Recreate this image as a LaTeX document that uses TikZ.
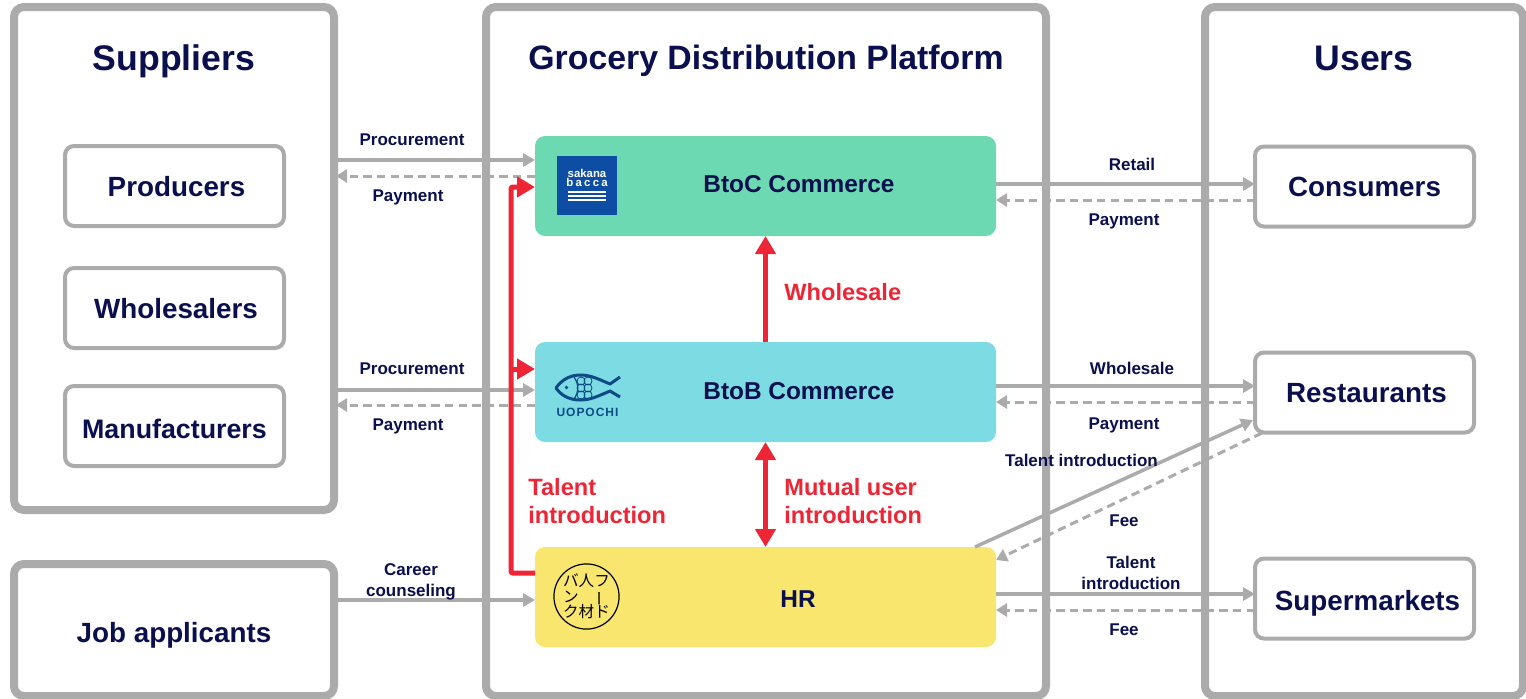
\documentclass[tikz,border=0pt]{standalone}
\usepackage{fontspec}
\setmainfont{Liberation Sans}
\newfontfamily\jpfont{Noto Sans CJK JP}
\newfontfamily\sakanafont{Liberation Sans}
\newfontfamily\baccafont[LetterSpace=20]{Liberation Sans}
\newfontfamily\uopochifont[LetterSpace=8]{Liberation Sans}
\usetikzlibrary{arrows.meta, positioning}
\definecolor{linegray}{HTML}{ABABAB}
\definecolor{navytext}{HTML}{0A0F4D}
\definecolor{redline}{HTML}{EE2535}
\definecolor{btocgreen}{HTML}{6DD9B3}
\definecolor{btobcyan}{HTML}{7DDBE3}
\definecolor{hryellow}{HTML}{F9E66F}
\definecolor{logoblue}{HTML}{0E4DA4}
\definecolor{fishblue}{HTML}{0D4A86}
\newcommand{\boxlabel}[3]{\hspace*{#1}\raisebox{#2}[0pt][0pt]{#3}}

\begin{document}
\begin{tikzpicture}[
            x=0.5pt, y=-0.5pt,
            panelnode/.style={rectangle, rounded corners=5pt, draw=linegray, line width=4pt, outer sep=0pt, inner sep=0pt},
            boxnode/.style={rectangle, rounded corners=4.5pt, draw=linegray, line width=2pt, outer sep=0pt, inner sep=0pt, minimum width=109.5pt, minimum height=40pt, text=navytext, font=\fontsize{13.9}{16}\selectfont\bfseries},
            servicenode/.style={rectangle, rounded corners=5pt, outer sep=0pt, inner sep=0pt, minimum width=230.5pt, minimum height=50pt},
            titletext/.style={text=navytext, font=\fontsize{17.8}{20}\selectfont\bfseries},
            servicetext/.style={text=navytext, font=\fontsize{12.2}{14}\selectfont\bfseries},
            flowlabel/.style={text=navytext, align=center, inner sep=0pt, font=\fontsize{8.5}{10.5}\selectfont\bfseries},
            redlabel/.style={text=redline, align=left, inner sep=0pt, anchor=west, font=\fontsize{11.8}{14}\selectfont\bfseries},
            logotext/.style={text=white, inner sep=0pt, anchor=base, font=\fontsize{5.7}{7}\selectfont\bfseries},
            flowline/.style={draw=linegray, line width=1.75pt, -{Triangle[length=6pt, width=6.5pt]}},
            backline/.style={draw=linegray, line width=1.5pt, dash pattern=on 4.2pt off 2.6pt, -{Triangle[length=5.5pt, width=6.5pt]}},
            redline/.style={draw=redline, line width=2.5pt, rounded corners=1pt},
            redarrow/.style={redline, -{Triangle[length=9pt, width=10pt]}},
            ]
            \clip (0,0) rectangle (1526,698);

            % outer panels
            \node[panelnode, minimum width=160pt, minimum height=251.5pt] (suppliers) at (174,258.5) {};
            \node[panelnode, minimum width=160pt, minimum height=66pt]    (jobs)      at (174,630) {\boxlabel{0pt}{-6pt}{\fontsize{13.9}{16}\selectfont\bfseries\color{navytext}Job applicants}};
            \node[panelnode, minimum width=280pt, minimum height=344.5pt] (platform)  at (766,351.5) {};
            \node[panelnode, minimum width=159pt, minimum height=344.5pt] (users)     at (1364,351.5) {};
            \node[titletext] (supplierstitle) at (174,61) {Suppliers};
            \node[titletext, font=\fontsize{16.9}{20}\selectfont\bfseries] (platformtitle)  at (766,61) {Grocery Distribution Platform};
            \node[titletext] (userstitle)     at (1364,58) {Users};

            % left boxes
            \node[boxnode] (producers)                               at (174.5,186) {\boxlabel{2pt}{-5pt}{Producers}};
            \node[boxnode] (wholesalers)   [below=21pt of producers]   {\boxlabel{1.5pt}{-5.25pt}{Wholesalers}};
            \node[boxnode, font=\fontsize{13.4}{16}\selectfont\bfseries] (manufacturers) [below=19pt of wholesalers] {\boxlabel{0pt}{-6.25pt}{Manufacturers}};

            % right boxes
            \node[boxnode] (consumers)                               at (1364.5,186.5) {\boxlabel{0pt}{-4.75pt}{Consumers}};
            \node[boxnode] (restaurants)   [below=63pt of consumers]   {\boxlabel{2pt}{-5pt}{Restaurants}};
            \node[boxnode] (supermarkets)  [below=63pt of restaurants] {\boxlabel{3pt}{-6pt}{Supermarkets}};

            % middle boxes
            \node[servicenode, fill=btocgreen] (btoc)                      at (765.5,186) {};
            \node[servicenode, fill=btobcyan]  (btob) [below=53pt of btoc]   {};
            \node[servicenode, fill=hryellow]  (hr)   [below=52.5pt of btob] {};
            \node[servicetext] (btoctext) at (799,184) {BtoC Commerce};
            \node[servicetext] (btobtext) at (799,391) {BtoB Commerce};
            \node[servicetext] (hrtext)   at (798,599) {HR};

            % sakana bacca logo
            \node[rectangle, fill=logoblue, minimum width=30pt, minimum height=29.5pt, inner sep=0pt] (sakanalogo) at (587,185.5) {};
            \node[logotext] (sakanaword) at (587,177.3) {\sakanafont sakana};
            \node[logotext] (baccaword)  at (587,186.9) {\baccafont bacca};
            \draw[white, line width=1pt] (568,191.8) -- (606,191.8);
            \draw[white, line width=1pt] (568,196) -- (606,196);
            \draw[white, line width=1pt] (568,200.2) -- (606,200.2);

            % uopochi logo
            \draw[fishblue, line width=1.5pt, line join=round] (620,377) -- (610,384) .. controls (596,378) and (590,375) .. (580,375) .. controls (568,375) and (560,382) .. (556,388) .. controls (560,394) and (568,400) .. (580,400) .. controls (590,400) and (596,397) .. (610,391) -- (620,397);
            \draw[fishblue, line width=0.6pt] (574,377) .. controls (579,384) and (579,392) .. (574,399);
            \draw[fishblue, line width=0.4pt] (581,381) circle[radius=2pt] (581,388) circle[radius=2pt] (581,395) circle[radius=2pt] (588,381) circle[radius=2pt] (588,388) circle[radius=2pt] (588,395) circle[radius=2pt];
            \fill[fishblue] (566.5,387.5) circle[radius=0.9pt];
            \node[text=fishblue, inner sep=0pt, font=\fontsize{6}{7}\selectfont\bfseries] (uopochiword) at (587.5,412) {\uopochifont UOPOCHI};

            % food jinzai logo
            \node[circle, draw=black, line width=0.6pt, minimum size=31.5pt, inner sep=0pt, align=left, font=\jpfont\fontsize{7.8}{7.8}\selectfont] (hrlogo) at (586.5,596.5) {バ人フ\\ン\hspace{1em}\makebox[1em]{\raisebox{0pt}[0pt][0pt]{\rotatebox[origin=c]{90}{ー}}}\\ク材ド};

            % left flows
            \draw[flowline] (suppliers.east |- 0,160) -- (btoc.west |- 0,160);
            \draw[backline, shorten >=1pt] (btoc.west |- 0,176) -- (suppliers.east |- 0,176);
            \draw[flowline] (suppliers.east |- 0,390) -- (btob.west |- 0,390);
            \draw[backline, shorten >=1pt] (btob.west |- 0,405) -- (suppliers.east |- 0,405);
            \draw[flowline] (jobs.east |- 0,600) -- (hr.west |- 0,600);
            \node[flowlabel] (procone)  at (412,140) {Procurement};
            \node[flowlabel] (payone)   at (408,197) {Payment};
            \node[flowlabel] (proctwo)  at (412,369) {Procurement};
            \node[flowlabel] (paytwo)   at (408,426) {Payment};
            \node[flowlabel] (career)   at (411,581.5) {Career\\counseling};

            % right flows
            \draw[flowline] (btoc.east |- 0,184) -- (consumers.west |- 0,184);
            \draw[backline] (consumers.west |- 0,200) -- (btoc.east |- 0,200);
            \draw[flowline] (btob.east |- 0,386) -- (restaurants.west |- 0,386);
            \draw[backline] (restaurants.west |- 0,402) -- (btob.east |- 0,402);
            \draw[flowline] (hr.east |- 0,594) -- (supermarkets.west |- 0,594);
            \draw[backline] (supermarkets.west |- 0,610) -- (hr.east |- 0,610);
            \coordinate (hrtop) at (975,547);
            \coordinate (restin) at (1253,420);
            \coordinate (restout) at (1262,433);
            \coordinate (hrcorner) at (996,560);
            \draw[flowline] (hrtop) -- (restin);
            \draw[backline] (restout) -- (hrcorner);
            \node[flowlabel] (retail)   at (1132,164) {Retail};
            \node[flowlabel] (paythree) at (1124,221) {Payment};
            \node[flowlabel] (whole)    at (1132,368) {Wholesale};
            \node[flowlabel] (payfour)  at (1124,425) {Payment};
            \node[flowlabel] (talentdiag) at (1081.5,460) {Talent introduction};
            \node[flowlabel] (feeone)   at (1124,521) {Fee};
            \node[flowlabel] (talentr)  at (1131,572.5) {Talent\\introduction};
            \node[flowlabel] (feetwo)   at (1124,630) {Fee};

            % red flows
            \coordinate (talentlow) at (511,573);
            \coordinate (talentmid) at (511,369);
            \coordinate (talentup)  at (511,187);
            \draw[redarrow] (hr.west |- talentlow) -- (talentlow) -- (talentup) -- (btoc.west |- talentup);
            \draw[redarrow] (talentmid) -- (btob.west |- talentmid);
            \draw[redarrow] (btob.north) -- (btoc.south);
            \draw[redarrow, {Triangle[length=9pt, width=10pt]}-{Triangle[length=9pt, width=10pt]}] (hr.north) -- (btob.south);
            \node[redlabel] (redwhole)  at (784,292) {Wholesale};
            \node[redlabel] (redmutual) at (784,501) {Mutual user\\introduction};
            \node[redlabel] (redtalent) at (528,501) {Talent\\introduction};
        \end{tikzpicture}
\end{document}
